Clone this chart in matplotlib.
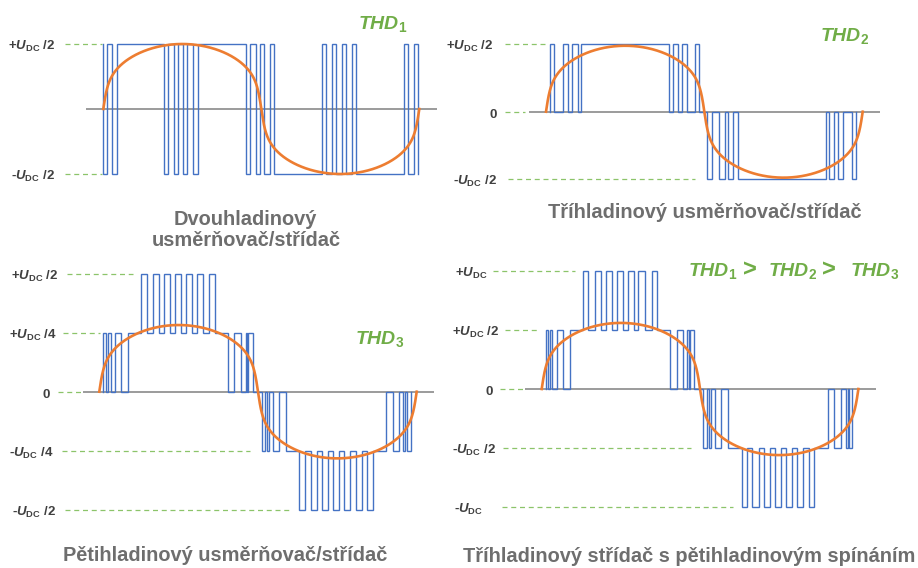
import numpy as np
import matplotlib
matplotlib.use("Agg")
import matplotlib.pyplot as plt

plt.rcParams['font.family'] = ['Liberation Sans', 'DejaVu Sans']
plt.rcParams['mathtext.fontset'] = 'custom'
plt.rcParams['mathtext.rm'] = 'Liberation Sans:bold'
plt.rcParams['mathtext.it'] = 'Liberation Sans:italic:bold'
plt.rcParams['mathtext.bf'] = 'Liberation Sans:bold'

# ---------------- data (switching angles in degrees, output levels) ----------------
p1_edges = [0.0, 4.2, 9.6, 15.3, 69.5, 74.0, 80.2, 84.8, 91.1, 95.7, 102.5, 107.5,
            162.6, 167.5, 174.0, 178.6, 183.4, 189.9, 194.5, 248.8, 253.7, 260.2,
            265.1, 271.6, 276.5, 283.0, 287.9, 342.6, 347.5, 354.0, 358.9]
p1_levels = [1, -1, 1, -1, 1, -1, 1, -1, 1, -1, 1, -1, 1, -1, 1, -1,
             1, -1, 1, -1, 1, -1, 1, -1, 1, -1, 1, -1, 1, -1, 1, -1]
p1_sine_amp = 1.0

p2_edges = [4.5, 9.4, 19.7, 25.3, 29.9, 36.0, 39.8, 140.2, 144.7, 150.4, 154.2,
            159.9, 169.4, 174.3, 182.7, 188.3, 196.6, 203.5, 207.2, 212.9, 217.9,
            317.9, 322.0, 327.7, 332.2, 337.9, 347.5, 352.4]
p2_levels = [0, 1, 0, 1, 0, 1, 0, 1, 0, 1, 0, 1, 0, 1, 0,
             -1, 0, -1, 0, -1, 0, -1, 0, -1, 0, -1, 0, -1, 0]
p2_sine_amp = 0.98

p3_edges = [4.5, 7.6, 10.4, 12.9, 17.8, 24.6, 32.2, 47.3, 53.8, 60.6, 68.1, 73.4,
            80.2, 85.9, 92.3, 98.3, 104.8, 111.2, 118.0, 124.8, 131.2, 145.6,
            153.1, 160.7, 166.0, 167.5, 169.0, 174.0,
            184.2, 187.4, 189.9, 192.1, 196.7, 204.2, 211.4, 226.8, 233.3, 240.1,
            246.6, 252.2, 259.7, 265.4, 272.2, 277.9, 284.3, 290.8, 297.6, 303.3,
            310.1, 325.2, 332.8, 339.6, 344.5, 346.2, 348.5, 353.2]
p3_levels = [0, 1, 0, 1, 0, 1, 0, 1,
             2, 1, 2, 1, 2, 1, 2, 1, 2, 1, 2, 1, 2, 1,
             0, 1, 0, 1, 0, 1, 0,
             -1, 0, -1, 0, -1, 0, -1,
             -2, -1, -2, -1, -2, -1, -2, -1, -2, -1, -2, -1, -2, -1,
             0, -1, 0, -1, 0, -1, 0]
p3_sine_amp = 1.13

p4_edges = [4.5, 7.5, 9.4, 11.4, 17.1, 24.6, 32.2, 47.3, 53.0, 60.6, 67.4, 72.7,
            80.3, 85.3, 92.8, 97.8, 105.3, 109.8, 117.4, 125.0, 130.7, 145.8,
            153.5, 161.0, 165.5, 167.5, 168.9, 173.5,
            183.7, 187.5, 190.2, 192.4, 197.0, 203.8, 211.4, 227.3, 233.0, 239.4,
            247.0, 252.7, 259.5, 265.2, 272.0, 277.4, 284.2, 289.9, 297.4, 304.2,
            309.9, 325.1, 332.6, 340.2, 345.6, 347.8, 349.3, 353.1]
p4_levels = p3_levels
p4_sine_amp = 1.12

# the hand-drawn reference wave is rounder than a true sine
wave_power = 0.35
wave_soft = 0.08

p1_ticks = [1, -1]
p1_ticklabels = ["+$U_{\\mathrm{DC}}$ /2", "-$U_{\\mathrm{DC}}$ /2"]
p2_ticks = [1, 0, -1]
p2_ticklabels = ["+$U_{\\mathrm{DC}}$ /2", "0", "-$U_{\\mathrm{DC}}$ /2"]
p3_ticks = [2, 1, 0, -1, -2]
p3_ticklabels = ["+$U_{\\mathrm{DC}}$ /2", "+$U_{\\mathrm{DC}}$ /4", "0",
                 "-$U_{\\mathrm{DC}}$ /4", "-$U_{\\mathrm{DC}}$ /2"]
p4_ticks = [2, 1, 0, -1, -2]
p4_ticklabels = ["+$U_{\\mathrm{DC}}$", "+$U_{\\mathrm{DC}}$ /2", "0",
                 "-$U_{\\mathrm{DC}}$ /2", "-$U_{\\mathrm{DC}}$"]

titles = [["Dvouhladinový", "usměrňovač/střídač"],
          ["Tříhladinový usměrňovač/střídač"],
          ["Pětihladinový usměrňovač/střídač"],
          ["Tříhladinový střídač s pětihladinovým spínáním"]]
thd_labels = ["$THD_1$", "$THD_2$", "$THD_3$"]
thd_compare = ["$THD_1$", ">", "$THD_2$", ">", "$THD_3$"]

# ---------------- layout (pixels) ----------------
W, H = 918, 568
BLUE = '#4472C4'
ORANGE = '#ED7D31'
GREEN = '#70AD47'
DASH = '#8CC46A'
LABEL = '#404040'
TITLE = '#6E6E6E'
AXISC = '#808080'

panels = [
    dict(box=(0, 0, 459, 250), x0=103.3, per=316.0, y0=109.0, unit=65.0,
         axis=(86, 437), edges=p1_edges, levels=p1_levels, amp=p1_sine_amp,
         ticks=p1_ticks, labels=p1_ticklabels, lab_r=[55, 55],
         dash=[(65, 102), (65, 102)]),
    dict(box=(459, 0, 918, 250), x0=546.0, per=316.7, y0=111.7, unit=67.3,
         axis=(529, 880), edges=p2_edges, levels=p2_levels, amp=p2_sine_amp,
         ticks=p2_ticks, labels=p2_ticklabels, lab_r=[493, 497, 497],
         dash=[(505, 545), (505, 525), (508, 695)]),
    dict(box=(0, 250, 459, 568), x0=99.3, per=317.4, y0=391.7, unit=59.0,
         axis=(83, 434), edges=p3_edges, levels=p3_levels, amp=p3_sine_amp,
         ticks=p3_ticks, labels=p3_ticklabels, lab_r=[58, 57, 50, 53, 56],
         dash=[(67, 133), (63, 100), (58, 82), (62, 250), (65, 290)]),
    dict(box=(459, 250, 918, 568), x0=541.7, per=316.7, y0=389.0, unit=59.0,
         axis=(525, 876), edges=p4_edges, levels=p4_levels, amp=p4_sine_amp,
         ticks=p4_ticks, labels=p4_ticklabels, lab_r=[487, 499, 493, 496, 483],
         dash=[(493, 575), (505, 540), (500, 523), (503, 691), (502, 733)]),
]

fig = plt.figure(figsize=(W / 100, H / 100), dpi=100)
fig.patch.set_facecolor('white')


def step_path(edges, levels):
    xs, ys = [], []
    for i, e in enumerate(edges):
        xs += [e, e]
        ys += [levels[i], levels[i + 1]]
    return xs, ys


def rounded_wave(theta, amp, pw, soft):
    s = np.sin(np.radians(theta))
    y = s * (s ** 2 + soft ** 2) ** (-(1.0 - pw) / 2.0)
    return amp * y / (1.0 + soft ** 2) ** (-(1.0 - pw) / 2.0)


for p in panels:
    L, T, R, B = p['box']
    ax = fig.add_axes([L / W, 1 - B / H, (R - L) / W, (B - T) / H])
    px2deg = lambda px, p=p: (px - p['x0']) / p['per'] * 360.0
    ax.set_xlim(px2deg(L), px2deg(R))
    ax.set_ylim((p['y0'] - B) / p['unit'], (p['y0'] - T) / p['unit'])
    ax.axis('off')

    # zero axis
    ax.plot([px2deg(p['axis'][0]), px2deg(p['axis'][1])], [0, 0],
            color=AXISC, lw=1.1, zorder=1, solid_capstyle='butt')
    # level guides + labels
    for lev, lab, r, (d0, d1) in zip(p['ticks'], p['labels'], p['lab_r'], p['dash']):
        ax.plot([px2deg(d0), px2deg(d1)], [lev, lev], color=DASH, lw=0.9,
                ls=(0, (4, 3)), zorder=1)
        ax.text(px2deg(r), lev - 6.0 / p['unit'], lab, ha='right', va='baseline',
                fontsize=9.5, fontweight='bold', color=LABEL)
    # PWM waveform
    xs, ys = step_path(p['edges'], p['levels'])
    ax.plot(xs, ys, color=BLUE, lw=1.0, zorder=2, solid_joinstyle='miter')
    # reference wave
    th = np.linspace(0, 360, 1500)
    ax.plot(th, rounded_wave(th, p['amp'], wave_power, wave_soft), color=ORANGE,
            lw=1.9, zorder=3)


def fx(x):
    return x / W


def fy(y):
    return 1 - y / H


TS = 14.4
# titles
fig.text(fx(245), fy(224.5), titles[0][0], ha='center', va='baseline',
         fontsize=TS, fontweight='bold', color=TITLE)
fig.text(fx(246), fy(246.5), titles[0][1], ha='center', va='baseline',
         fontsize=TS, fontweight='bold', color=TITLE)
fig.text(fx(705), fy(218.3), titles[1][0], ha='center', va='baseline',
         fontsize=TS, fontweight='bold', color=TITLE)
fig.text(fx(225), fy(561), titles[2][0], ha='center', va='baseline',
         fontsize=TS, fontweight='bold', color=TITLE)
fig.text(fx(689.5), fy(561.5), titles[3][0], ha='center', va='baseline',
         fontsize=TS, fontweight='bold', color=TITLE)

# THD annotations
fig.text(fx(358), fy(29), thd_labels[0], ha='left', va='baseline',
         fontsize=14, color=GREEN)
fig.text(fx(820), fy(40.7), thd_labels[1], ha='left', va='baseline',
         fontsize=14, color=GREEN)
fig.text(fx(355), fy(344.3), thd_labels[2], ha='left', va='baseline',
         fontsize=14, color=GREEN)
cmp_x = [688, 743, 768, 822, 850]
cmp_fs = [14, 17, 14, 17, 14]
for s, x, f in zip(thd_compare, cmp_x, cmp_fs):
    fig.text(fx(x), fy(276), s, ha='left', va='baseline', fontsize=f,
             color=GREEN, fontweight='bold')

fig.savefig('out.png', dpi=100, facecolor='white')
